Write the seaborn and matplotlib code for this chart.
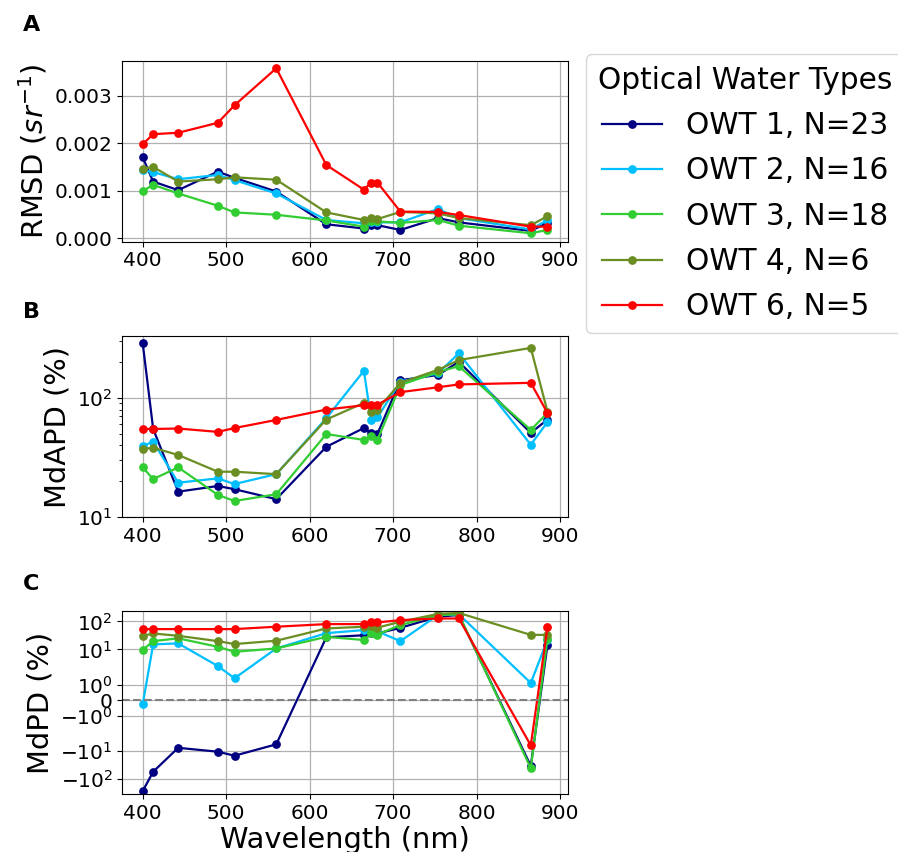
import numpy as np
import pandas as pd
import matplotlib
matplotlib.use("Agg")
import matplotlib.pyplot as plt
import matplotlib.ticker as mticker
import seaborn as sns

# ---------------- data ----------------
wavelength = [400, 412.5, 442.5, 490, 510, 560, 620, 665, 673.75, 681.25,
              708.75, 753.75, 778.75, 865, 885]
owt_labels = ["OWT 1, N=23", "OWT 2, N=16", "OWT 3, N=18", "OWT 4, N=6", "OWT 6, N=5"]
owt_colors = ["navy", "deepskyblue", "limegreen", "olivedrab", "red"]

rmsd_owt1 = [0.0017, 0.00119, 0.00101, 0.0014, 0.00127, 0.00098, 0.00029, 0.0002,
             0.00027, 0.00027, 0.00017, 0.00042, 0.00033, 0.00015, 0.00032]
rmsd_owt2 = [0.00143, 0.00139, 0.00124, 0.00133, 0.00122, 0.00094, 0.00038, 0.00031,
             0.00033, 0.00033, 0.00033, 0.00061, 0.00042, 0.00018, 0.00038]
rmsd_owt3 = [0.00099, 0.00112, 0.00094, 0.00068, 0.00054, 0.00049, 0.00037, 0.00024,
             0.00035, 0.00035, 0.00032, 0.00038, 0.00026, 0.0001, 0.00017]
rmsd_owt4 = [0.00146, 0.0015, 0.00119, 0.00124, 0.00128, 0.00123, 0.00054, 0.00038,
             0.00042, 0.0004, 0.00055, 0.00052, 0.00042, 0.00027, 0.00046]
rmsd_owt6 = [0.00198, 0.00219, 0.00222, 0.00243, 0.0028, 0.00358, 0.00154, 0.00102,
             0.00117, 0.00117, 0.000556, 0.00055, 0.000485, 0.00024, 0.00024]

mdapd_owt1 = [287, 55, 16.4, 18.3, 17.2, 14.2, 39, 56, 50.6, 50, 141, 156, 201, 51, 66]
mdapd_owt2 = [39.6, 43, 19.5, 21.2, 19, 23, 67.7, 169, 66, 69, 137, 161, 237, 40.6, 62.8]
mdapd_owt3 = [26.2, 20.9, 26.2, 15.4, 13.7, 15.6, 49.9, 44.5, 48, 44.5, 128.5, 165, 185, 54, 75]
mdapd_owt4 = [37.3, 38.3, 33.3, 24.1, 24.1, 23, 66, 91, 77, 80, 134, 172, 208, 263, 77]
mdapd_owt6 = [55, 55, 55.5, 52, 56, 65.5, 80, 87, 88, 88, 112, 123, 130, 134, 75]

mdpd_owt1 = [-275, -56, -7.85, -10.8, -15, -5.9, 27, 32, 37, 37, 59, 146, 170, -35, 14]
mdpd_owt2 = [-0.26, 15.1, 16.4, 2.54, 1.4, 10.8, 38, 49, 44, 44, 19.7, 168, 180, 1.1, 22]
mdpd_owt3 = [9.5, 19.7, 24.8, 12.4, 8.2, 10.8, 28, 21.6, 37, 34, 74, 168, 180, -42, 24]
mdpd_owt4 = [30.6, 37, 30.6, 19.7, 15.5, 20.4, 56, 64.5, 66, 60, 97, 185, 200, 33, 33]
mdpd_owt6 = [53, 53, 53, 53, 53, 64.5, 80, 80, 92, 92, 111, 127, 127, -6.4, 61.7]

xticks = [400, 500, 600, 700, 800, 900]

rmsd = [rmsd_owt1, rmsd_owt2, rmsd_owt3, rmsd_owt4, rmsd_owt6]
mdapd = [mdapd_owt1, mdapd_owt2, mdapd_owt3, mdapd_owt4, mdapd_owt6]
mdpd = [mdpd_owt1, mdpd_owt2, mdpd_owt3, mdpd_owt4, mdpd_owt6]


def long_df(series):
    rows = []
    for lab, vals in zip(owt_labels, series):
        for w, v in zip(wavelength, vals):
            rows.append({"wl": w, "val": v, "owt": lab})
    return pd.DataFrame(rows)


# ---------------- figure ----------------
W, H = 898, 852
fig = plt.figure(figsize=(W / 100, H / 100), dpi=100)

left = 122.5 / W
width = (567.7 - 122.5) / W
axA = fig.add_axes([left, 1 - 241.7 / H, width, 181 / H])
axB = fig.add_axes([left, 1 - 517.3 / H, width, 181.3 / H])
axC = fig.add_axes([left, 1 - 794 / H, width, 183 / H])

palette = dict(zip(owt_labels, owt_colors))
line_kw = dict(marker="o", markersize=6.3, markeredgewidth=0, linewidth=1.6)

LABEL_FS = 20.8

for ax, series in zip([axA, axB, axC], [rmsd, mdapd, mdpd]):
    sns.lineplot(data=long_df(series), x="wl", y="val", hue="owt",
                 hue_order=owt_labels, palette=palette, ax=ax, legend=False,
                 sort=False, **line_kw)
    ax.set_xticks(xticks)
    ax.grid(True, color="#b0b0b0", linewidth=0.9)
    ax.tick_params(labelsize=14.5)
    ax.set_xlabel("")

# Panel A
axA.set_ylim(-0.000078, 0.00374)
axA.set_yticks([0.0, 0.001, 0.002, 0.003])
axA.yaxis.set_major_formatter(mticker.FormatStrFormatter("%.3f"))
axA.set_ylabel(r"RMSD ($sr^{-1}$)", fontsize=LABEL_FS)

# Panel B
axB.set_yscale("log")
axB.set_ylim(10, 331)
axB.set_ylabel("MdAPD (%)", fontsize=LABEL_FS)

# Panel C
axC.set_yscale("symlog", linthresh=2, linscale=1)
axC.set_ylim(-350, 235)
axC.set_yticks([-100, -10, -1, 0, 1, 10, 100])
axC.yaxis.set_minor_locator(mticker.NullLocator())
axC.axhline(0, color="gray", linestyle="--", linewidth=1.5)
axC.set_ylabel("MdPD (%)", fontsize=LABEL_FS)
axC.set_xlabel("Wavelength (nm)", fontsize=LABEL_FS, labelpad=2)

# panel letters
fig.text(23 / W, 1 - 25 / H, "A", fontsize=16, fontweight="bold", va="center")
fig.text(23 / W, 1 - 312 / H, "B", fontsize=16, fontweight="bold", va="center")
fig.text(23 / W, 1 - 584 / H, "C", fontsize=16, fontweight="bold", va="center")

# legend
handles = axA.get_lines()[:5]
fig.legend(handles, owt_labels, title="Optical Water Types", loc="upper left",
           bbox_to_anchor=(586 / W, 1 - 54 / H), borderaxespad=0,
           fontsize=21.3, title_fontsize=21.3, labelspacing=0.55,
           handlelength=2.05)

fig.savefig("out.png", dpi=100)
